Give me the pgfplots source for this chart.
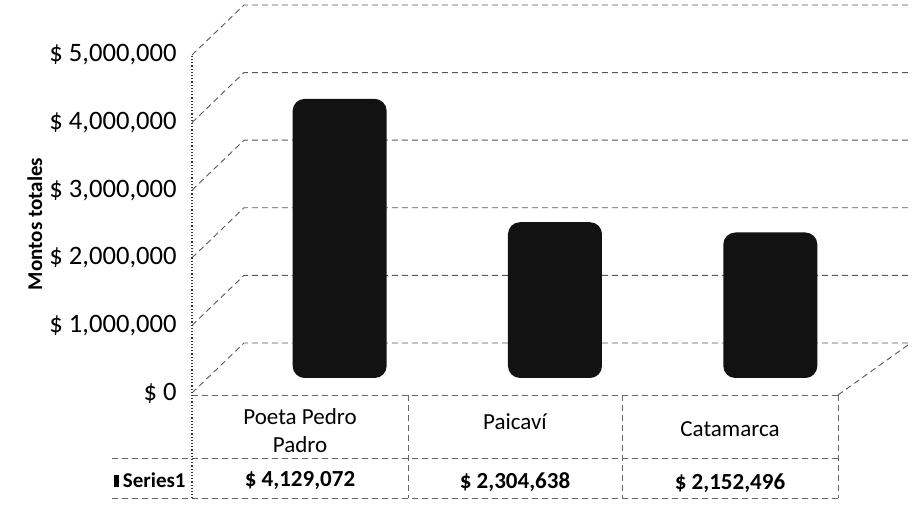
\documentclass[border=0pt]{standalone}
\usepackage{pgfplots}
\pgfplotsset{compat=1.18}
\usepackage{fontspec}
\setmainfont{Carlito}
\begin{document}
\begin{tikzpicture}[
  grid line/.style={densely dashed, black!65, line width=0.45pt},
  tab line/.style={densely dashed, black!60, line width=0.45pt}]
\useasboundingbox (-96pt,-62.5pt) rectangle (360pt,196.5pt);
\begin{axis}[
  scale only axis,
  width=323pt, height=169pt,
  xmin=-0.5, xmax=2.5,
  ymin=0, ymax=5000000,
  scaled y ticks=false,
  clip=false,
  axis line style={draw=none},
  tick style={draw=none},
  xtick=\empty,
  ytick={0,1000000,2000000,3000000,4000000,5000000},
  yticklabels={{\$ 0},{\$ 1,000,000},{\$ 2,000,000},{\$ 3,000,000},{\$ 4,000,000},{\$ 5,000,000}},
  yticklabel style={font=\fontsize{13.3}{15}\selectfont, inner sep=0pt, xshift=-7.5pt},
  ylabel={Montos totales},
  ylabel style={font=\fontsize{10.5}{12}\selectfont\bfseries},
]
\pgfplotsinvokeforeach{0,1000000,2000000,3000000,4000000,5000000}{
  \draw[grid line] (axis cs:-0.5,#1) -- ++(26pt,25pt) -- ++(334pt,0pt);
}
\addplot[ybar, bar width=47pt, bar shift=20pt, yshift=7.5pt,
  fill=black!93, draw=none, rounded corners=6pt]
  coordinates {(0,4129072) (1,2304638) (2,2152496)};
\end{axis}
% front-left edge and floor right edge
\draw[black!80, densely dotted, line width=0.6pt] (0pt,0pt) -- (0pt,169pt);
\draw[grid line] (323pt,-1pt) -- (358pt,24pt);
% data table
\draw[tab line] (0pt,-1pt) -- (323pt,-1pt);
\draw[tab line] (-40pt,-32.5pt) -- (323pt,-32.5pt);
\draw[tab line] (-40pt,-52.5pt) -- (323pt,-52.5pt);
\draw[black!80, densely dotted, line width=0.6pt] (0pt,-1pt) -- (0pt,-52.5pt);
\draw[tab line] (108pt,-1pt) -- (108pt,-52.5pt);
\draw[tab line] (215pt,-1pt) -- (215pt,-52.5pt);
\draw[tab line] (323pt,-1pt) -- (323pt,-52.5pt);
\begin{scope}[every node/.style={font=\fontsize{11.5}{14}\selectfont}]
\node[align=center] at (54pt,-19pt) {Poeta Pedro\\Padro};
\node at (161.5pt,-14.5pt) {Paicaví};
\node at (269pt,-18pt) {Catamarca};
\node[font=\fontsize{11.5}{14}\selectfont\bfseries] at (54pt,-44pt) {\$ 4,129,072};
\node[font=\fontsize{11.5}{14}\selectfont\bfseries] at (161.5pt,-44.5pt) {\$ 2,304,638};
\node[font=\fontsize{11.5}{14}\selectfont\bfseries] at (269pt,-45pt) {\$ 2,152,496};
\node[anchor=east, inner sep=0pt, font=\fontsize{10.5}{12}\selectfont\bfseries] at (-3pt,-43.5pt) {\rule{2.5pt}{6pt}\,Series1};
\end{scope}
\end{tikzpicture}
\end{document}
